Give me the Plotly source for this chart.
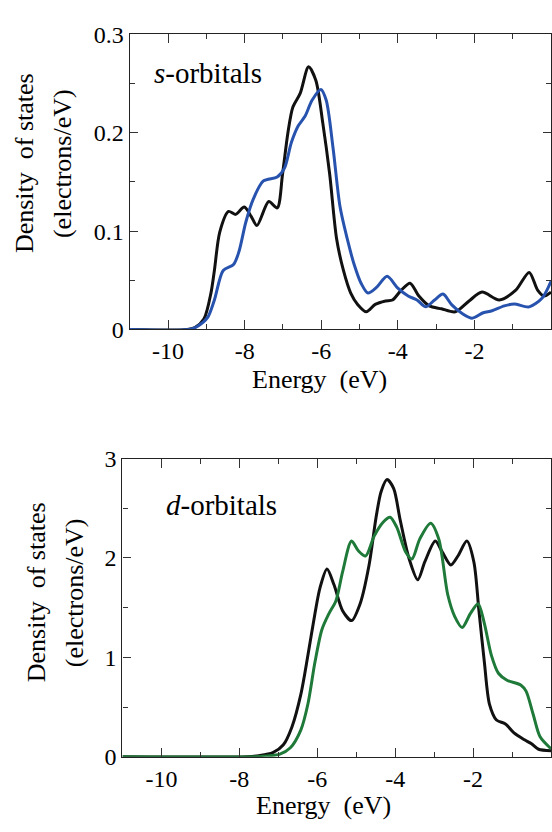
import plotly.graph_objects as go

# ---- data: s-orbitals (top panel) ----
s_black_x = [-11, -9.5, -9.3, -9.06, -8.88, -8.79, -8.65, -8.42, -8.24, -8.01, -7.83, -7.68, -7.37, -7.15,
             -7.01, -6.87, -6.74, -6.55, -6.33, -6.14, -5.96, -5.78, -5.6, -5.42, -5.23, -5.05, -4.82,
             -4.59, -4.32, -4.14, -3.91, -3.68, -3.45, -3.18, -2.86, -2.5, -2.14, -1.8, -1.35, -0.92,
             -0.57, -0.35, -0.18, 0]
s_black_y = [0, 0, 0.002, 0.011, 0.037, 0.06, 0.099, 0.12, 0.117, 0.1245, 0.115, 0.1056, 0.13, 0.1235,
             0.158, 0.2, 0.226, 0.24, 0.267, 0.253, 0.21, 0.158, 0.0925, 0.06, 0.037, 0.0255, 0.018,
             0.0255, 0.029, 0.03, 0.04, 0.047, 0.034, 0.024, 0.021, 0.018, 0.029, 0.038, 0.03, 0.04,
             0.058, 0.04, 0.034, 0.038]

s_blue_x = [-11, -9.45, -9.24, -8.97, -8.79, -8.56, -8.29, -8.15, -7.97, -7.78, -7.51, -7.15, -6.96,
            -6.78, -6.6, -6.42, -6.24, -6.01, -5.87, -5.69, -5.51, -5.32, -5.14, -4.96, -4.78, -4.55,
            -4.28, -4.0, -3.73, -3.5, -3.27, -3.04, -2.82, -2.59, -2.31, -2.06, -1.77, -1.54, -1.22,
            -0.96, -0.57, -0.23, 0]
s_blue_y = [0, 0, 0.003, 0.012, 0.03, 0.06, 0.066, 0.079, 0.109, 0.132, 0.151, 0.155, 0.164, 0.19,
            0.207, 0.217, 0.233, 0.244, 0.233, 0.184, 0.125, 0.092, 0.066, 0.047, 0.037, 0.043,
            0.054, 0.042, 0.034, 0.03, 0.023, 0.03, 0.036, 0.025, 0.016, 0.0115, 0.017, 0.019, 0.024,
            0.026, 0.023, 0.032, 0.049]

# ---- data: d-orbitals (bottom panel) ----
d_black_x = [-11, -7.8, -7.5, -7.14, -6.87, -6.65, -6.42, -6.24, -6.06, -5.93, -5.75, -5.57, -5.35,
             -5.12, -4.9, -4.67, -4.49, -4.36, -4.21, -4.04, -3.87, -3.64, -3.42, -3.24, -2.97, -2.79,
             -2.57, -2.39, -2.16, -1.98, -1.85, -1.71, -1.58, -1.4, -1.17, -0.95, -0.68, -0.5, -0.32, 0]
d_black_y = [0, 0, 0.01, 0.04, 0.12, 0.3, 0.63, 1.02, 1.44, 1.7, 1.89, 1.73, 1.47, 1.37, 1.54, 1.93,
             2.41, 2.67, 2.79, 2.7, 2.38, 1.99, 1.78, 1.96, 2.17, 2.06, 1.93, 2.02, 2.17, 1.96, 1.47,
             0.95, 0.53, 0.37, 0.33, 0.24, 0.17, 0.13, 0.075, 0.06]

d_green_x = [-11, -7.6, -7.3, -6.96, -6.69, -6.42, -6.24, -6.06, -5.88, -5.7, -5.52, -5.35, -5.12,
             -4.94, -4.76, -4.54, -4.31, -4.13, -3.96, -3.73, -3.57, -3.37, -3.09, -2.88, -2.65,
             -2.47, -2.28, -2.07, -1.87, -1.71, -1.53, -1.35, -1.13, -0.77, -0.64, -0.46, -0.28, 0]
d_green_y = [0, 0, 0.008, 0.026, 0.09, 0.27, 0.53, 0.95, 1.28, 1.44, 1.57, 1.86, 2.17, 2.07, 2.02,
             2.22, 2.36, 2.41, 2.31, 2.06, 1.99, 2.19, 2.35, 2.19, 1.63, 1.41, 1.30, 1.44, 1.54, 1.34,
             1.02, 0.84, 0.77, 0.72, 0.66, 0.43, 0.2, 0.08]

x_ticks = [-10, -8, -6, -4, -2]
x_ticktext = ["-10", "-8", "-6", "-4", "-2"]
x_minor = [-11, -9, -7, -5, -3, -1]
s_yticks = [0, 0.1, 0.2, 0.3]
s_ytext = ["0", "0.1", "0.2", "0.3"]
s_yminor = [0.05, 0.15, 0.25]
d_yticks = [0, 1, 2, 3]
d_ytext = ["0", "1", "2", "3"]
d_yminor = [0.5, 1.5, 2.5]

BLACK = "#111111"
BLUE = "#2753ae"
GREEN = "#1f7a3a"
FONT = "'Liberation Serif', 'Times New Roman', 'DejaVu Serif', serif"
W, H = 552, 832

fig = go.Figure()
lw = 3
fig.add_trace(go.Scatter(x=s_black_x, y=s_black_y, mode="lines", line=dict(color=BLACK, width=lw, shape="spline", smoothing=0.8), xaxis="x", yaxis="y"))
fig.add_trace(go.Scatter(x=s_blue_x, y=s_blue_y, mode="lines", line=dict(color=BLUE, width=lw, shape="spline", smoothing=0.8), xaxis="x", yaxis="y"))
fig.add_trace(go.Scatter(x=d_black_x, y=d_black_y, mode="lines", line=dict(color=BLACK, width=lw, shape="spline", smoothing=0.8), xaxis="x2", yaxis="y2"))
fig.add_trace(go.Scatter(x=d_green_x, y=d_green_y, mode="lines", line=dict(color=GREEN, width=lw, shape="spline", smoothing=0.8), xaxis="x2", yaxis="y2"))

axis_common = dict(showline=True, linecolor="#222", linewidth=1.2, mirror="ticks", ticks="inside",
                   tickcolor="#333", tickwidth=1.2, showgrid=False, zeroline=False,
                   tickfont=dict(family=FONT, size=24, color="#000"))

def xax(domain, anchor):
    return dict(domain=domain, anchor=anchor, range=[-11, 0], tickmode="array", tickvals=x_ticks,
                ticktext=x_ticktext, ticklen=9,
                minor=dict(tickmode="array", tickvals=x_minor, ticklen=5, ticks="inside",
                           tickcolor="#333", tickwidth=1.2), **axis_common)

def yax(domain, anchor, rng, tv, tt, mv):
    return dict(domain=domain, anchor=anchor, range=rng, tickmode="array", tickvals=tv, ticktext=tt,
                ticklen=8, minor=dict(tickmode="array", tickvals=mv, ticklen=5, ticks="inside",
                                      tickcolor="#333", tickwidth=1.2), **axis_common)

def px_x(p):
    return p / W

def px_y(p):
    return 1 - p / H

top_x = [130 / W, 1]
top_y = [px_y(326.7), px_y(22)]
bot_x = [122.7 / W, 1]
bot_y = [px_y(767.7), px_y(460)]

fig.update_layout(
    width=W, height=H, margin=dict(l=0, r=0, t=0, b=0),
    paper_bgcolor="white", plot_bgcolor="white", showlegend=False,
    font=dict(family=FONT),
    xaxis=xax(top_x, "y"),
    yaxis=yax(top_y, "x", [0, 0.3], s_yticks, s_ytext, s_yminor),
    xaxis2=xax(bot_x, "y2"),
    yaxis2=yax(bot_y, "x2", [0, 3], d_yticks, d_ytext, d_yminor),
)

tf = dict(family=FONT, size=26, color="#000")
ann = []
# y titles (two lines each)
for (cx1, cx2, cy) in [(24, 62, 155), (36, 74, 598)]:
    ann.append(dict(text="Density  of states", x=px_x(cx1), y=px_y(cy), xref="paper", yref="paper",
                    textangle=-90, showarrow=False, font=tf, xanchor="center", yanchor="middle"))
    ann.append(dict(text="(electrons/eV)", x=px_x(cx2), y=px_y(cy), xref="paper", yref="paper",
                    textangle=-90, showarrow=False, font=tf, xanchor="center", yanchor="middle"))
# x titles
for (cx, cy) in [(320, 378), (324, 818)]:
    ann.append(dict(text="Energy  (eV)", x=px_x(cx), y=px_y(cy), xref="paper", yref="paper",
                    showarrow=False, font=tf, xanchor="center", yanchor="middle"))
# panel labels
lf = dict(family=FONT, size=29, color="#000")
ann.append(dict(text="<i>s</i>-orbitals", x=px_x(152), y=px_y(62), xref="paper", yref="paper",
                showarrow=False, font=lf, xanchor="left", yanchor="middle"))
ann.append(dict(text="<i>d</i>-orbitals", x=px_x(164), y=px_y(508), xref="paper", yref="paper",
                showarrow=False, font=lf, xanchor="left", yanchor="middle"))
fig.update_layout(annotations=ann)

fig.write_html("out.html", config={"displayModeBar": False},
               post_script="document.body.style.margin='0';")
